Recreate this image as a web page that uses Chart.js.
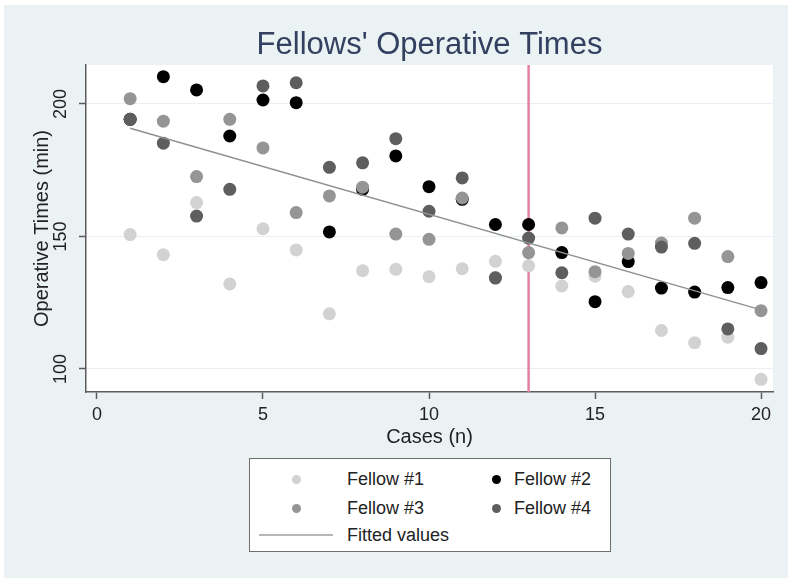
<!DOCTYPE html>
<html>
<head>
<meta charset="utf-8">
<title>Fellows' Operative Times</title>
<script src="https://cdn.jsdelivr.net/npm/chart.js@4/dist/chart.umd.min.js"></script>
<style>
  html, body { margin: 0; padding: 0; background: #fff; }
  #wrap { position: relative; width: 800px; height: 586px; }
  #legend {
    position: absolute; left: 249px; top: 458px; width: 362px; height: 94px;
    background: #fff; border: 1px solid #6e6e6e; box-sizing: border-box;
    font-family: 'Liberation Sans', Arial, sans-serif; font-size: 18px; color: #222;
  }
  #legend .dot { position: absolute; width: 9px; height: 9px; border-radius: 50%; margin: -4.5px 0 0 -4.5px; }
  #legend .line { position: absolute; height: 2px; margin-top: -1px; }
  #legend .label { position: absolute; line-height: 20px; margin-top: -10px; white-space: nowrap; }
</style>
</head>
<body>
<div id="wrap">
  <canvas id="chart" width="800" height="586"></canvas>
  <div id="legend"></div>
</div>
<script>
// data
const cases = [1, 2, 3, 4, 5, 6, 7, 8, 9, 10, 11, 12, 13, 14, 15, 16, 17, 18, 19, 20];
const fellow1 = [150.7, 143.1, 162.8, 132.1, 152.9, 144.9, 120.8, 137.1, 137.6, 134.8, 137.8, 140.6, 138.9, 131.3, 135.0, 129.2, 114.5, 109.9, 112.0, 96.1];
const fellow2 = [194.2, 210.3, 205.3, 187.9, 201.5, 200.5, 151.7, 167.8, 180.4, 168.8, 164.0, 154.5, 154.5, 143.9, 125.4, 140.5, 130.5, 129.0, 130.7, 132.6];
const fellow3 = [202.0, 193.5, 172.6, 194.2, 183.4, 159.0, 165.3, 168.6, 150.9, 148.9, 164.5, 134.5, 143.9, 153.2, 136.7, 143.6, 147.5, 156.9, 142.4, 122.0];
const fellow4 = [194.2, 185.2, 157.7, 167.8, 206.8, 208.0, 176.1, 177.8, 186.9, 159.5, 172.1, 134.3, 149.4, 136.3, 156.9, 150.9, 146.0, 147.4, 115.1, 107.7];
const fittedCases = [1, 20];
const fittedValues = [190.8, 122.3];
const cutoffCase = 13;
const xTicks = [0, 5, 10, 15, 20];
const yTicks = [100, 150, 200];
const seriesNames = ['Fellow #1', 'Fellow #2', 'Fellow #3', 'Fellow #4'];
const seriesColors = ['#d2d2d2', '#000000', '#959595', '#5e5e5e'];
const fitColor = '#8c9292';

const FONT = "'Liberation Sans', Arial, sans-serif";
Chart.defaults.font.family = FONT;

function points(xs, ys) {
  return xs.map((x, i) => ({ x: x, y: ys[i] }));
}

const fellows = [fellow1, fellow2, fellow3, fellow4];
const datasets = fellows.map((vals, i) => ({
  type: 'scatter',
  label: seriesNames[i],
  data: points(cases, vals),
  backgroundColor: seriesColors[i],
  borderWidth: 0,
  pointRadius: 6.5,
  order: 4 - i
}));
datasets.push({
  type: 'scatter',
  label: 'Fitted values',
  data: points(fittedCases, fittedValues),
  showLine: true,
  borderColor: fitColor,
  borderWidth: 1.5,
  pointRadius: 0,
  order: 0
});

// light blue graph region, white plot region
const backdrop = {
  id: 'backdrop',
  beforeDraw(chart) {
    const { ctx, chartArea: a } = chart;
    ctx.save();
    ctx.fillStyle = '#fff';
    ctx.fillRect(0, 0, chart.width, chart.height);
    ctx.fillStyle = '#eaf2f3';
    ctx.fillRect(4, 5, 784, 573);
    ctx.fillStyle = '#fff';
    ctx.fillRect(a.left, a.top, a.right - a.left, a.bottom - a.top);
    ctx.restore();
  }
};

// pink reference line at the cutoff case
const cutoffLine = {
  id: 'cutoffLine',
  beforeDatasetsDraw(chart) {
    const { ctx, chartArea: a, scales } = chart;
    const x = scales.x.getPixelForValue(cutoffCase);
    ctx.save();
    ctx.strokeStyle = '#e4829f';
    ctx.lineWidth = 2.5;
    ctx.beginPath();
    ctx.moveTo(x, a.top);
    ctx.lineTo(x, a.bottom);
    ctx.stroke();
    ctx.restore();
  }
};

// title centred over the plot region
const plotTitle = {
  id: 'plotTitle',
  afterDraw(chart) {
    const { ctx, chartArea: a } = chart;
    ctx.save();
    ctx.font = '31px ' + FONT;
    ctx.fillStyle = '#33405f';
    ctx.textAlign = 'center';
    ctx.textBaseline = 'middle';
    ctx.fillText("Fellows' Operative Times", (a.left + a.right) / 2, 45);
    ctx.restore();
  }
};

const axisColor = '#5c5c5c';

new Chart(document.getElementById('chart'), {
  type: 'scatter',
  data: { datasets: datasets },
  options: {
    responsive: false,
    animation: false,
    layout: { padding: { top: 65, left: 30, right: 27, bottom: 137 } },
    plugins: {
      legend: { display: false },
      tooltip: { enabled: false }
    },
    scales: {
      x: {
        type: 'linear',
        min: -0.33,
        max: 20.36,
        afterBuildTicks: s => { s.ticks = xTicks.map(v => ({ value: v })); },
        afterFit: s => { s.height = 57; },
        border: { display: true, color: axisColor, width: 1.5 },
        grid: { drawOnChartArea: false, drawTicks: true, tickLength: 7, tickColor: axisColor, tickWidth: 1.5 },
        ticks: { color: '#222', font: { size: 18 }, padding: 5, maxRotation: 0 },
        title: { display: true, text: 'Cases (n)', color: '#222', font: { size: 20 }, padding: 0 }
      },
      y: {
        type: 'linear',
        min: 91.3,
        max: 214.7,
        afterBuildTicks: s => { s.ticks = yTicks.map(v => ({ value: v })); },
        afterFit: s => { s.width = 56; },
        border: { display: true, color: axisColor, width: 1.5 },
        grid: { color: '#eaf0f1', lineWidth: 1, drawTicks: true, tickLength: 7, tickColor: axisColor, tickWidth: 1.5 },
        ticks: { color: '#222', font: { size: 18 }, padding: 3, minRotation: 90, maxRotation: 90, crossAlign: 'center' },
        title: { display: true, text: 'Operative Times (min)', color: '#222', font: { size: 20 }, padding: 0 }
      }
    }
  },
  plugins: [backdrop, cutoffLine, plotTitle]
});

// legend box, two columns like the original
const legend = document.getElementById('legend');
const rowY = [20, 49, 76];
const colMarker = [46, 246];
const colText = [97, 264];
seriesNames.forEach((name, i) => {
  const r = Math.floor(i / 2), c = i % 2;
  const dot = document.createElement('div');
  dot.className = 'dot';
  dot.style.left = colMarker[c] + 'px';
  dot.style.top = rowY[r] + 'px';
  dot.style.background = seriesColors[i];
  legend.appendChild(dot);
  const lab = document.createElement('div');
  lab.className = 'label';
  lab.style.left = colText[c] + 'px';
  lab.style.top = rowY[r] + 'px';
  lab.textContent = name;
  legend.appendChild(lab);
});
const fitLine = document.createElement('div');
fitLine.className = 'line';
fitLine.style.left = '9px';
fitLine.style.width = '74px';
fitLine.style.top = rowY[2] + 'px';
fitLine.style.background = '#b4b8b8';
legend.appendChild(fitLine);
const fitLab = document.createElement('div');
fitLab.className = 'label';
fitLab.style.left = colText[0] + 'px';
fitLab.style.top = rowY[2] + 'px';
fitLab.textContent = 'Fitted values';
legend.appendChild(fitLab);
</script>
</body>
</html>
